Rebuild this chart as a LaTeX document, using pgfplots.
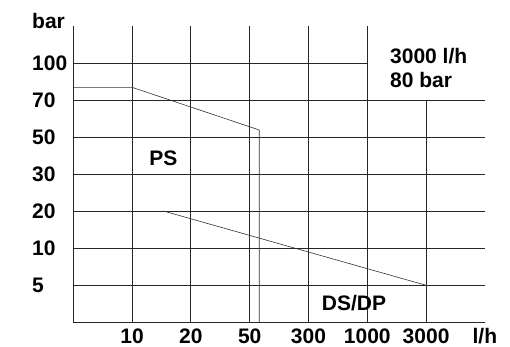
\documentclass[border=0pt]{standalone}
\usepackage{pgfplots}
\pgfplotsset{compat=1.18}
\usepackage{fontspec}
\setmainfont{Liberation Sans}
\begin{document}
\begin{tikzpicture}
\begin{axis}[
  x=58.8pt, y=37pt,
  xmin=0, xmax=7, ymin=0, ymax=8,
  axis lines=left,
  axis line style={-, line width=0.9pt, black!85},
  major tick length=0pt,
  clip=false,
  xtick={1,2,3,4,5,6,7},
  xticklabels={10,20,50,300,1000,3000,l/h},
  ytick={1,2,3,4,5,6,7},
  yticklabels={5,10,20,30,50,70,100},
  tick label style={font=\fontsize{21}{25}\selectfont\bfseries, inner sep=0pt},
  xticklabel style={anchor=base, yshift=-21.3pt},
  yticklabel style={anchor=west, xshift=-41.3pt},
]
% grid lines
\addplot[black!85, line width=0.9pt] coordinates {(1,0) (1,8)};
\addplot[black!85, line width=0.9pt] coordinates {(2,0) (2,8)};
\addplot[black!85, line width=0.9pt] coordinates {(3,0) (3,8)};
\addplot[black!85, line width=0.9pt] coordinates {(4,0) (4,8)};
\addplot[black!85, line width=0.9pt] coordinates {(5,0) (5,8)};
\addplot[black!85, line width=0.9pt] coordinates {(6,0) (6,6)};
\addplot[black!85, line width=0.9pt] coordinates {(0,7) (5,7)};
\addplot[black!85, line width=0.9pt] coordinates {(0,6) (7,6)};
\addplot[black!85, line width=0.9pt] coordinates {(0,5) (7,5)};
\addplot[black!85, line width=0.9pt] coordinates {(0,4) (7,4)};
\addplot[black!85, line width=0.9pt] coordinates {(0,3) (7,3)};
\addplot[black!85, line width=0.9pt] coordinates {(0,2) (7,2)};
\addplot[black!85, line width=0.9pt] coordinates {(0,1) (7,1)};
% PS limit
\addplot[black!80, line width=0.6pt] coordinates {(0,6.35) (1,6.35) (3.163,5.197) (3.163,0)};
% DS/DP limit
\addplot[black!80, line width=0.6pt] coordinates {(1.531,3.008) (6,1.0)};
% labels
\node[anchor=west, inner sep=0pt, xshift=-41.3pt, font=\fontsize{21}{25}\selectfont\bfseries] at (axis cs:0,8.14) {bar};
\node[anchor=base west, inner sep=0pt, font=\fontsize{21}{25}\selectfont\bfseries] at (axis cs:1.289,4.25) {PS};
\node[anchor=base west, inner sep=0pt, font=\fontsize{21}{25}\selectfont\bfseries] at (axis cs:4.224,0.332) {DS/DP};
\node[anchor=base west, inner sep=0pt, font=\fontsize{21}{25}\selectfont\bfseries] at (axis cs:5.386,7.0) {3000 l/h};
\node[anchor=base west, inner sep=0pt, font=\fontsize{21}{25}\selectfont\bfseries] at (axis cs:5.386,6.35) {80 bar};
% bounding box
\path (axis cs:-1.247,-0.668) rectangle (axis cs:7.427,8.711);
\end{axis}
\end{tikzpicture}
\end{document}
